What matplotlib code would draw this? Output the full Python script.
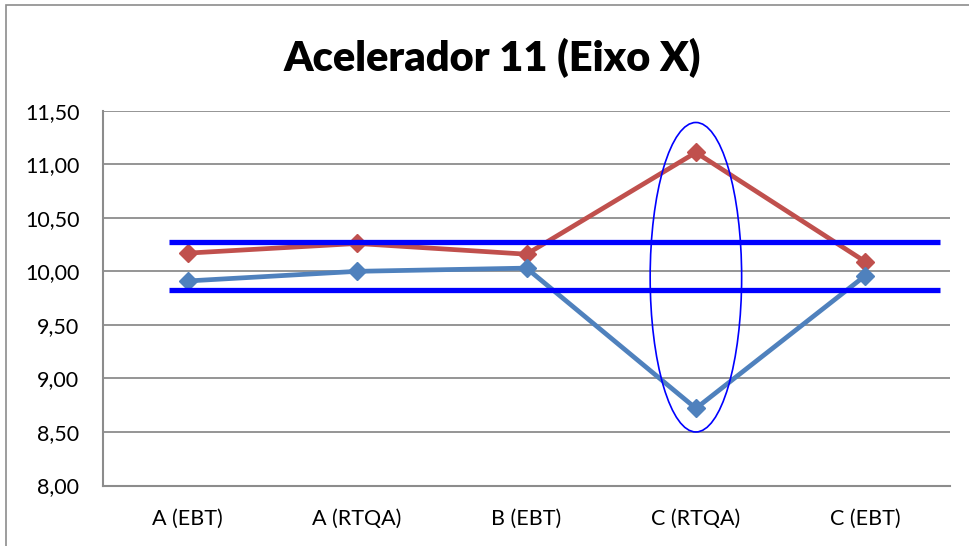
import matplotlib
matplotlib.use("Agg")
import matplotlib.pyplot as plt
from matplotlib.patches import Ellipse, Rectangle
from matplotlib.ticker import FuncFormatter

plt.rcParams['font.family'] = ['Lato', 'DejaVu Sans']

categories = ["A (EBT)", "A (RTQA)", "B (EBT)", "C (RTQA)", "C (EBT)"]
serie_vermelha = [10.17, 10.26, 10.16, 11.11, 10.09]
serie_azul = [9.91, 10.00, 10.03, 8.72, 9.96]
limites = [10.27, 9.825]
limites_x = [-0.11, 4.44]
elipse_centro = (3, 9.945)
elipse_tamanho = (0.54, 2.89)
yticks = [8.0, 8.5, 9.0, 9.5, 10.0, 10.5, 11.0, 11.5]

fig = plt.figure(figsize=(9.69, 5.46), dpi=100)
ax = fig.add_axes([103/969, 1-485.5/546, (950-103)/969, (485.5-110.7)/546])

# moldura do grafico (estilo excel)
fig.patches.append(Rectangle((6/969, -0.1), 1.2, 1.1 - 5/546, transform=fig.transFigure,
                             fill=False, edgecolor='#8c8c8c', linewidth=1.2))

x = range(len(categories))
ax.plot(x, serie_vermelha, color='#C0504D', lw=3.4, marker='D', ms=9.5, zorder=3)
ax.plot(x, serie_azul, color='#4F81BD', lw=3.4, marker='D', ms=9.5, zorder=4)

for y in limites:
    ax.plot(limites_x, [y, y], color='#0000FF', lw=3.8, solid_capstyle='butt', zorder=5)

ax.add_patch(Ellipse(elipse_centro, elipse_tamanho[0], elipse_tamanho[1],
                     fill=False, edgecolor='#0000FF', lw=1.2, zorder=6))

ax.set_xlim(-0.5, 4.5)
ax.set_ylim(8.0, 11.5)
ax.set_yticks(yticks)
ax.yaxis.set_major_formatter(FuncFormatter(lambda v, p: f"{v:.2f}".replace('.', ',')))
ax.set_xticks(list(x))
ax.set_xticklabels(categories)
ax.tick_params(axis='both', length=0, labelsize=15.5, colors='black')
ax.tick_params(axis='y', pad=17)
ax.tick_params(axis='x', pad=17)

ax.grid(axis='y', color='#8c8c8c', lw=1.3)
ax.set_axisbelow(True)
for s in ['top', 'right']:
    ax.spines[s].set_visible(False)
for s in ['left', 'bottom']:
    ax.spines[s].set_color('#8c8c8c')
    ax.spines[s].set_linewidth(1.5)

fig.text(492/969, 1-58/546, "Acelerador 11 (Eixo X)", fontsize=30, fontweight='heavy',
         ha='center', va='center')

fig.savefig("out.png", dpi=100)
